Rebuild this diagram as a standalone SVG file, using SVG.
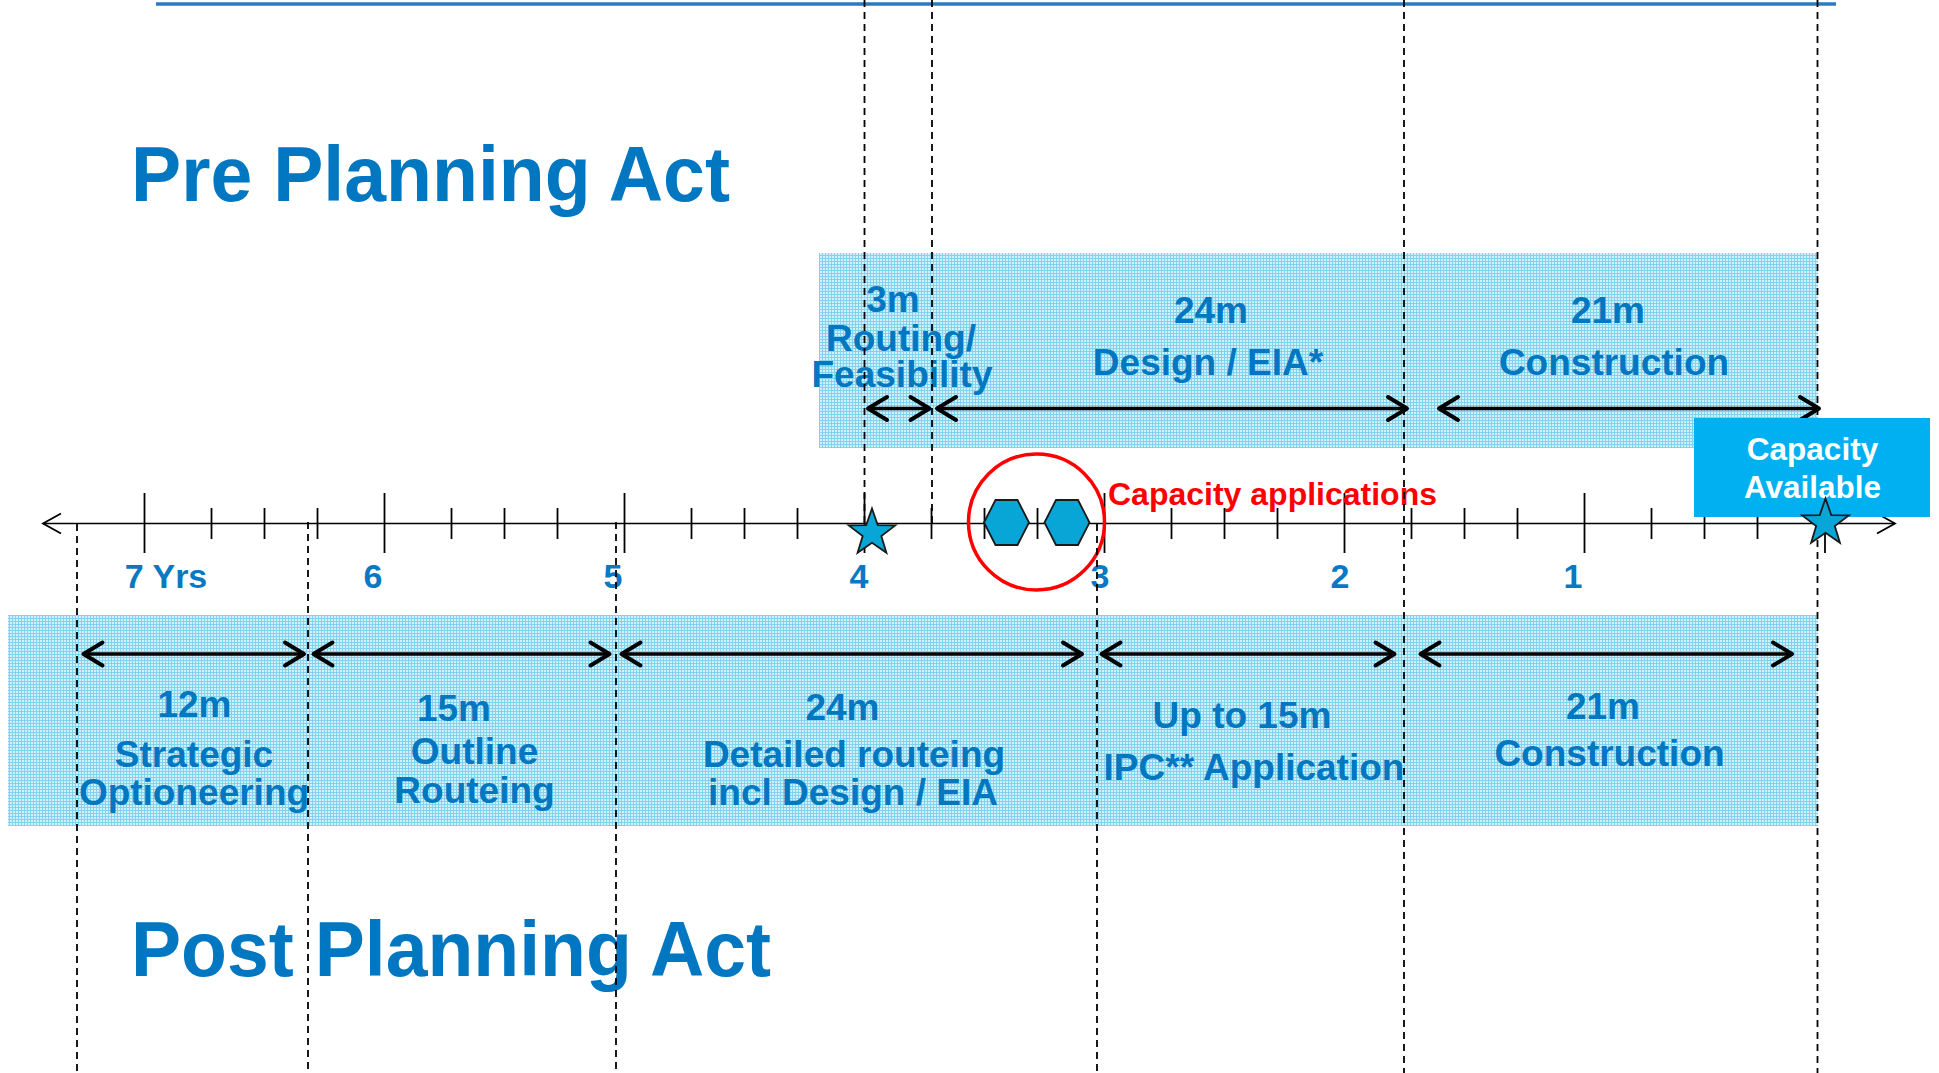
<svg xmlns="http://www.w3.org/2000/svg" width="1939" height="1073" viewBox="0 0 1939 1073">
<style>
.lbl{font-family:"Liberation Sans",Arial,sans-serif;font-weight:bold;fill:#0077c0;text-anchor:middle;font-size:37px}
.yr{font-family:"Liberation Sans",Arial,sans-serif;font-weight:bold;fill:#0a78c2;text-anchor:middle;font-size:34px}
.title{font-family:"Liberation Sans",Arial,sans-serif;font-weight:bold;fill:#0077c0;font-size:77px}
.red{font-family:"Liberation Sans",Arial,sans-serif;font-weight:bold;fill:#ff0000;font-size:32px}
.wht{font-family:"Liberation Sans",Arial,sans-serif;font-weight:bold;fill:#ffffff;text-anchor:middle;font-size:31.5px}
.dash{stroke:#000;stroke-width:1.8;stroke-dasharray:7 5;fill:none}
.tick{stroke:#000;stroke-width:1.8}
.span{stroke:#000;stroke-width:3.6;fill:none;marker-start:url(#ah);marker-end:url(#ah)}
.band{fill:url(#grid)}
.shape{fill:#08a6d6;stroke:#1a1a1a;stroke-width:1.8}
</style>
<defs>
<pattern id="grid" width="3" height="3" patternUnits="userSpaceOnUse">
<rect width="3" height="3" fill="#d2f0fa"/>
<rect width="3" height="1" fill="#80d2ee"/>
<rect width="1" height="3" fill="#80d2ee"/>
</pattern>
<marker id="ah" viewBox="-24 -14 28 28" refX="0" refY="0" markerWidth="28" markerHeight="28" markerUnits="userSpaceOnUse" orient="auto-start-reverse" overflow="visible">
<path d="M-19,-11.5 L0,0 L-19,11.5" fill="none" stroke="#000" stroke-width="4" stroke-linecap="round" stroke-linejoin="round"/>
</marker>
<marker id="axh" viewBox="-20 -12 24 24" refX="0" refY="0" markerWidth="24" markerHeight="24" markerUnits="userSpaceOnUse" orient="auto-start-reverse" overflow="visible">
<path d="M-18,-10 L0,0 L-18,10" fill="none" stroke="#000" stroke-width="1.8"/>
</marker>
<polygon id="star" points="0,-24.5 5.76,-7.93 23.3,-7.57 9.32,3.03 14.4,19.82 0,9.8 -14.4,19.82 -9.32,3.03 -23.3,-7.57 -5.76,-7.93"/>
<polygon id="hex" points="-22.5,0 -11,-22.5 11,-22.5 22.5,0 11,22.5 -11,22.5"/>
</defs>

<rect width="1939" height="1073" fill="#ffffff"/>

<line x1="156" y1="4" x2="1836" y2="4" stroke="#2a7ac2" stroke-width="3.5"/>

<g id="upper-band"><rect class="band" x="819" y="253" width="999" height="195"/></g>
<g id="lower-band"><rect class="band" x="8" y="615" width="1810" height="211"/></g>

<g id="timeline">
<line x1="43" y1="523.5" x2="1895" y2="523.5" stroke="#000" stroke-width="1.6" marker-start="url(#axh)" marker-end="url(#axh)"/>
<g class="tick">
<line x1="144.5" y1="493" x2="144.5" y2="553"/>
<line x1="384.5" y1="493" x2="384.5" y2="553"/>
<line x1="624.5" y1="493" x2="624.5" y2="553"/>
<line x1="864.5" y1="493" x2="864.5" y2="553"/>
<line x1="1104.5" y1="493" x2="1104.5" y2="553"/>
<line x1="1344.5" y1="493" x2="1344.5" y2="553"/>
<line x1="1584.5" y1="493" x2="1584.5" y2="553"/>
<line x1="1825" y1="493" x2="1825" y2="553"/>
<line x1="211.5" y1="508" x2="211.5" y2="539"/>
<line x1="264.5" y1="508" x2="264.5" y2="539"/>
<line x1="317.5" y1="508" x2="317.5" y2="539"/>
<line x1="451.5" y1="508" x2="451.5" y2="539"/>
<line x1="504.5" y1="508" x2="504.5" y2="539"/>
<line x1="557.5" y1="508" x2="557.5" y2="539"/>
<line x1="691.5" y1="508" x2="691.5" y2="539"/>
<line x1="744.5" y1="508" x2="744.5" y2="539"/>
<line x1="797.5" y1="508" x2="797.5" y2="539"/>
<line x1="931.5" y1="508" x2="931.5" y2="539"/>
<line x1="984.5" y1="508" x2="984.5" y2="539"/>
<line x1="1037.5" y1="508" x2="1037.5" y2="539"/>
<line x1="1171.5" y1="508" x2="1171.5" y2="539"/>
<line x1="1224.5" y1="508" x2="1224.5" y2="539"/>
<line x1="1277.5" y1="508" x2="1277.5" y2="539"/>
<line x1="1411.5" y1="508" x2="1411.5" y2="539"/>
<line x1="1464.5" y1="508" x2="1464.5" y2="539"/>
<line x1="1517.5" y1="508" x2="1517.5" y2="539"/>
<line x1="1651.5" y1="508" x2="1651.5" y2="539"/>
<line x1="1704.5" y1="508" x2="1704.5" y2="539"/>
<line x1="1757.5" y1="508" x2="1757.5" y2="539"/>
</g>
<text class="yr" x="166" y="588">7 Yrs</text>
<text class="yr" x="373" y="588">6</text>
<text class="yr" x="613" y="588">5</text>
<text class="yr" x="859" y="588">4</text>
<text class="yr" x="1100" y="588">3</text>
<text class="yr" x="1340" y="588">2</text>
<text class="yr" x="1573" y="588">1</text>
</g>

<g id="capacity-applications">
<use href="#hex" x="1006.5" y="522.5" class="shape"/>
<use href="#hex" x="1067" y="522.5" class="shape"/>
<circle cx="1036.5" cy="522" r="68" fill="none" stroke="#ff0000" stroke-width="3.5"/>
<text class="red" x="1108" y="505">Capacity applications</text>
</g>

<g id="titles">
<text class="title" x="131" y="201" textLength="599" lengthAdjust="spacingAndGlyphs">Pre Planning Act</text>
<text class="title" x="131" y="976" textLength="640" lengthAdjust="spacingAndGlyphs">Post Planning Act</text>
</g>

<g id="pre-3m">
<text class="lbl" x="893" y="312">3m</text>
<text class="lbl" x="901" y="351">Routing/</text>
<text class="lbl" x="902" y="387">Feasibility</text>
</g>
<g id="pre-24m">
<text class="lbl" x="1211" y="323">24m</text>
<text class="lbl" x="1208" y="375">Design / EIA*</text>
</g>
<g id="pre-21m">
<text class="lbl" x="1608" y="323">21m</text>
<text class="lbl" x="1614" y="375">Construction</text>
</g>

<g id="post-12m">
<text class="lbl" x="194.5" y="717">12m</text>
<text class="lbl" x="194" y="767">Strategic</text>
<text class="lbl" x="194" y="805">Optioneering</text>
</g>
<g id="post-15m">
<text class="lbl" x="454" y="721">15m</text>
<text class="lbl" x="474.5" y="764">Outline</text>
<text class="lbl" x="474.5" y="803">Routeing</text>
</g>
<g id="post-24m">
<text class="lbl" x="842.5" y="719.5">24m</text>
<text class="lbl" x="854" y="767">Detailed routeing</text>
<text class="lbl" x="853" y="805">incl Design / EIA</text>
</g>
<g id="post-ipc">
<text class="lbl" x="1242" y="728">Up to 15m</text>
<text class="lbl" x="1254" y="780">IPC** Application</text>
</g>
<g id="post-21m">
<text class="lbl" x="1603" y="719">21m</text>
<text class="lbl" x="1609.5" y="766">Construction</text>
</g>

<g id="dashed-lines">
<line class="dash" x1="77" y1="524" x2="77" y2="1073"/>
<line class="dash" x1="308" y1="522" x2="308" y2="1073"/>
<line class="dash" x1="616" y1="522" x2="616" y2="1073"/>
<line class="dash" x1="864.5" y1="0" x2="864.5" y2="530"/>
<line class="dash" x1="932" y1="0" x2="932" y2="525"/>
<line class="dash" x1="1097" y1="524" x2="1097" y2="1073"/>
<line class="dash" x1="1404" y1="0" x2="1404" y2="1073"/>
<line class="dash" x1="1817.5" y1="0" x2="1817.5" y2="1073"/>
</g>

<g id="connectors">
<line class="span" x1="868" y1="408.5" x2="929.5" y2="408.5"/>
<line class="span" x1="937" y1="408.5" x2="1407" y2="408.5"/>
<line class="span" x1="1439" y1="408.5" x2="1819" y2="408.5"/>
<line class="span" x1="83.5" y1="654" x2="304" y2="654"/>
<line class="span" x1="313.5" y1="654" x2="609.5" y2="654"/>
<line class="span" x1="621.5" y1="654" x2="1082" y2="654"/>
<line class="span" x1="1101.5" y1="654" x2="1394.5" y2="654"/>
<line class="span" x1="1420.5" y1="654" x2="1792" y2="654"/>
</g>

<g id="star-start">
<use href="#star" x="872" y="533" class="shape"/>
</g>

<g id="capacity-available">
<rect x="1694" y="418" width="236" height="99" fill="#00b0f0"/>
<text class="wht" x="1812.5" y="460">Capacity</text>
<text class="wht" x="1812.5" y="498">Available</text>
<use href="#star" x="1825.5" y="523" class="shape"/>
</g>
</svg>
